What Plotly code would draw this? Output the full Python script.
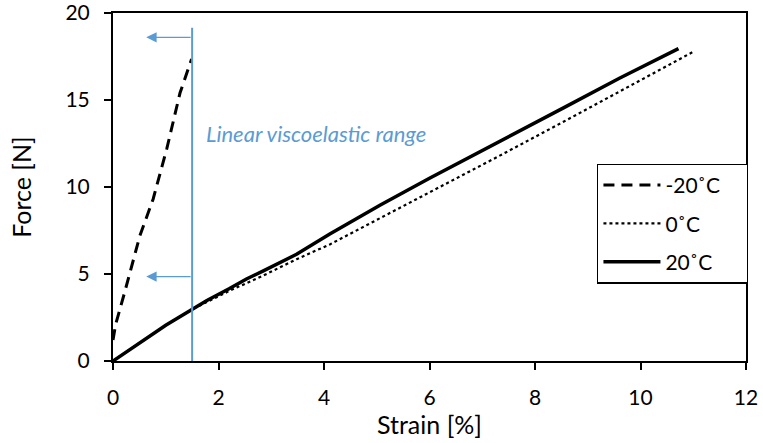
import plotly.graph_objects as go

# -20°C
x_m20 = [0.0, 0.05, 0.23, 0.51, 0.76, 1.02, 1.27, 1.49]
y_m20 = [1.2, 2.1, 4.05, 7.2, 9.3, 12.2, 15.4, 17.35]
# 0°C
x_0 = [0.0, 1.0, 1.52, 2.22, 2.84, 3.48, 4.11, 5.06, 6.13, 7.3, 8.54, 9.8, 11.03]
y_0 = [0.0, 2.05, 3.0, 4.05, 4.9, 5.85, 6.7, 8.2, 9.9, 11.75, 13.75, 15.8, 17.82]
# 20°C
x_20 = [0.0, 0.5, 1.0, 1.52, 1.78, 2.2, 2.53, 2.85, 3.48, 4.11, 5.06, 6.0, 7.3, 8.54, 9.6, 10.72]
y_20 = [0.0, 1.05, 2.05, 3.0, 3.48, 4.15, 4.71, 5.18, 6.13, 7.3, 8.95, 10.5, 12.55, 14.55, 16.25, 17.95]

x_ticks = [0, 2, 4, 6, 8, 10, 12]
y_ticks = [0, 5, 10, 15, 20]

blue = "#5B9BD5"
font = "Lato, Open Sans, sans-serif"
pad = "\u00a0" * 4

fig = go.Figure()
fig.add_trace(go.Scatter(x=x_m20, y=y_m20, mode="lines", name="-20˚C" + pad, legendgroup="a",
                         line=dict(color="black", width=3, dash="11px,7px")))
fig.add_trace(go.Scatter(x=x_0, y=y_0, mode="lines", name="0˚C", legendgroup="b",
                         line=dict(color="black", width=2.2, dash="dot")))
fig.add_trace(go.Scatter(x=x_20, y=y_20, mode="lines", name="20˚C", legendgroup="c",
                         line=dict(color="black", width=3.5)))

# vertical line for linear viscoelastic range
fig.add_shape(type="line", x0=1.5, x1=1.5, y0=0, y1=19.15, xref="x", yref="y",
              line=dict(color=blue, width=2))
for ya in [18.6, 4.85]:
    fig.add_annotation(x=0.63, y=ya, ax=1.5, ay=ya, xref="x", yref="y", axref="x", ayref="y",
                       showarrow=True, arrowhead=2, arrowsize=1.6, arrowwidth=1.3,
                       arrowcolor=blue, text="")
fig.add_annotation(x=1.72, y=13.05, xref="x", yref="y", text="<i>Linear viscoelastic range</i>",
                   showarrow=False, xanchor="left", yanchor="middle",
                   font=dict(color=blue, size=22, family=font))

fig.update_layout(
    width=763, height=443,
    margin=dict(l=113, r=17, t=13, b=82),
    paper_bgcolor="white", plot_bgcolor="white",
    font=dict(family=font, size=21, color="black"),
    showlegend=True,
    legend=dict(x=0.765, y=0.567, xanchor="left", yanchor="top",
                bordercolor="black", borderwidth=1.2, bgcolor="white",
                tracegroupgap=8, itemwidth=57, font=dict(size=21, family=font)),
    xaxis=dict(range=[0, 12], tickvals=x_ticks, showgrid=False, zeroline=False,
               showline=True, linecolor="black", linewidth=2, mirror=True,
               ticks="outside", ticklen=7, tickwidth=1.5, tickcolor="black",
               ticklabelstandoff=10,
               automargin=False, ticklabeloverflow="allow",
               title=dict(text="Strain [%]", standoff=8)),
    yaxis=dict(range=[0, 20], tickvals=y_ticks, showgrid=False, zeroline=False,
               showline=True, linecolor="black", linewidth=2, mirror=True,
               ticks="outside", ticklen=7, tickwidth=1.5, tickcolor="black",
               ticklabelstandoff=10,
               automargin=False, ticklabeloverflow="allow",
               title=dict(text="Force [N]", standoff=27)),
)

fig.write_html("out.html")
